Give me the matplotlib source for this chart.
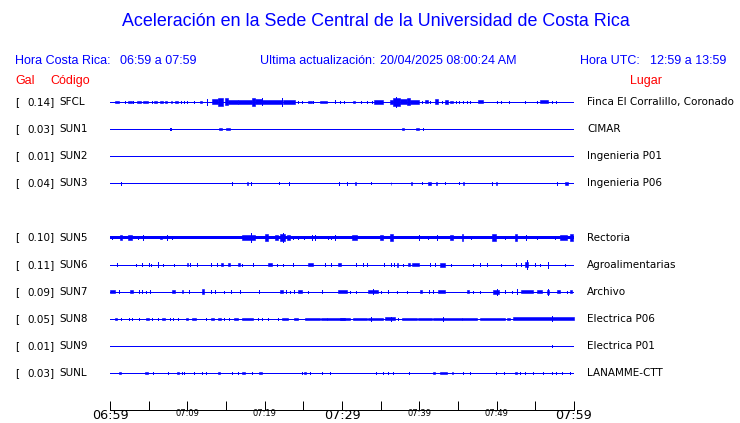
import matplotlib
matplotlib.use("Agg")
import matplotlib.pyplot as plt
import matplotlib.transforms as mtransforms

BLUE = "#0000ff"
RED = "#ff0000"

STATIONS = ["SFCL", "SUN1", "SUN2", "SUN3", "SUN5", "SUN6", "SUN7", "SUN8", "SUN9", "SUNL"]
GAL = ["0.14", "0.03", "0.01", "0.04", "0.10", "0.11", "0.09", "0.05", "0.01", "0.03"]
PLACES = ["Finca El Corralillo, Coronado", "CIMAR", "Ingenieria P01", "Ingenieria P06",
          "Rectoria", "Agroalimentarias", "Archivo", "Electrica P06", "Electrica P01",
          "LANAMME-CTT"]
ROWS = [0, 1, 2, 3, 5, 6, 7, 8, 9, 10]
BASE_AMP = [0, 0, 0, 0, 1.5, 0, 0, 0, 0, 0]

# events per station: (start minute, end minute, half amplitude in px); start == end -> spike
SFCL_EV = [(0.6, 1.2, 1), (2.0, 2.0, 1), (2.3, 2.9, 1), (3.0, 3.0, 1), (3.5, 4.0, 1.3),
           (4.3, 4.9, 1.3), (5.4, 5.4, 1), (5.7, 6.1, 1.3), (6.5, 6.9, 1), (7.1, 7.4, 1),
           (7.9, 8.0, 1), (8.4, 8.8, 1.3), (9.2, 9.2, 1), (9.6, 9.6, 1), (10.0, 10.0, 1.3),
           (10.9, 10.9, 1), (11.7, 11.9, 1), (12.5, 12.5, 3), (13.2, 14.0, 2.5), (14.0, 14.6, 4),
           (14.9, 15.3, 3.5), (15.3, 16.6, 2), (16.6, 18.4, 2.3), (18.4, 18.8, 4),
           (18.8, 19.7, 2.5), (19.6, 19.6, 3.5), (19.7, 22.2, 2), (22.2, 22.2, 4),
           (22.4, 23.9, 2), (24.3, 24.3, 1.3), (24.8, 24.8, 1), (25.6, 26.1, 1.3), (26.3, 26.3, 1),
           (27.2, 28.0, 1.3), (29.1, 29.1, 1.5), (29.7, 29.7, 1), (30.2, 30.2, 1),
           (31.4, 31.7, 1.3), (32.5, 32.5, 1.3), (33.2, 33.2, 1), (33.9, 33.9, 1),
           (34.2, 35.3, 1.8), (36.2, 36.6, 2), (36.6, 37.5, 4), (37.0, 37.0, 5.3),
           (37.5, 38.4, 2.5), (38.4, 38.8, 3.5), (38.8, 40.0, 2), (40.3, 40.3, 1),
           (40.7, 41.1, 1.5), (41.4, 41.4, 1), (42.0, 42.4, 2.5), (42.9, 42.9, 1),
           (43.3, 43.7, 2), (44.0, 44.4, 1.3), (44.8, 44.8, 1), (45.1, 45.1, 1), (45.6, 45.6, 1),
           (46.1, 46.1, 1), (46.6, 46.6, 1), (47.6, 48.2, 1.5), (50.0, 50.0, 1), (50.6, 50.6, 1),
           (51.6, 51.6, 1), (53.7, 53.7, 1), (55.2, 55.2, 1), (55.6, 56.6, 1.5), (57.1, 57.1, 1),
           (57.7, 57.7, 1)]
SUN1_EV = [(7.7, 7.7, 1.3), (7.9, 7.9, 1.3), (14.1, 14.5, 1.3), (15.0, 15.5, 1.3),
           (37.8, 38.0, 1.3), (39.6, 40.0, 1.3), (40.5, 40.5, 1.3)]
SUN2_EV = []
SUN3_EV = [(1.4, 1.4, 1.3), (15.8, 15.8, 1.3), (17.7, 17.8, 1.3), (18.2, 18.2, 1.3),
           (21.9, 21.9, 1), (23.1, 23.1, 1.3), (29.6, 29.6, 1.3), (30.6, 30.6, 1.3),
           (31.7, 31.8, 1.3), (33.8, 33.8, 1), (36.3, 36.4, 1.3), (38.9, 39.1, 1.3),
           (40.4, 40.4, 1), (41.1, 41.5, 1.3), (42.2, 42.3, 1.3), (43.3, 43.3, 1),
           (45.1, 45.1, 1), (45.7, 45.8, 1.3), (49.4, 49.4, 1.3), (49.9, 50.0, 1.3),
           (57.8, 57.8, 1.3), (58.8, 59.2, 1.3)]
SUN5_EV = [(0.3, 0.3, 2), (1.3, 1.6, 2.5), (2.3, 2.8, 2.5), (3.6, 3.6, 2), (4.3, 4.3, 2.5),
           (6.5, 6.7, 2), (7.4, 7.4, 2.5), (8.0, 8.0, 2), (17.1, 18.8, 3), (18.2, 18.2, 5),
           (20.0, 20.4, 3.5), (21.3, 21.7, 2.5), (22.0, 22.6, 4), (22.4, 22.4, 5),
           (22.9, 23.3, 3), (23.7, 23.7, 2), (24.3, 24.3, 2), (25.1, 25.1, 2), (26.1, 26.1, 3),
           (26.5, 26.5, 2.5), (28.2, 28.2, 2), (28.6, 28.6, 2), (29.1, 29.1, 2.5),
           (31.3, 31.9, 2.5), (34.9, 35.3, 2.5), (36.2, 36.6, 3.5), (40.0, 40.0, 2.5),
           (41.1, 41.1, 2), (42.3, 42.3, 3), (44.0, 44.4, 2.5), (45.5, 45.7, 3.5),
           (46.7, 46.7, 2), (49.4, 49.9, 3.5), (51.1, 51.1, 2), (52.4, 52.6, 3.5),
           (53.8, 53.8, 2.5), (55.2, 55.2, 1.7), (57.5, 57.5, 2), (58.2, 59.1, 2.5),
           (59.5, 59.9, 3.5)]
SUN6_EV = [(0.9, 0.9, 1.3), (3.4, 3.4, 1), (4.2, 4.2, 1.3), (5.0, 5.0, 1.3), (5.3, 5.3, 1),
           (6.2, 6.2, 2.7), (6.9, 6.9, 1), (8.3, 8.3, 1), (10.0, 10.1, 1.3), (10.4, 10.4, 1.3),
           (11.3, 11.3, 1.3), (13.1, 13.1, 1.3), (13.8, 13.8, 1.3), (14.4, 14.6, 1.3),
           (15.3, 15.5, 1.3), (16.6, 16.8, 1.3), (17.1, 17.1, 1), (18.5, 18.5, 1.3),
           (20.4, 20.9, 1.3), (21.6, 21.6, 1), (22.4, 22.4, 1), (23.7, 23.7, 1.3),
           (25.6, 26.2, 1.3), (27.8, 27.8, 1.3), (28.6, 28.6, 1.3), (29.5, 29.9, 1.3),
           (31.8, 31.8, 1.3), (32.7, 32.7, 1.3), (33.2, 33.2, 1.3), (35.4, 35.4, 1.3),
           (36.4, 36.4, 1.3), (36.7, 36.7, 1.3), (37.1, 37.3, 2), (37.9, 37.9, 1),
           (38.5, 38.8, 1.3), (39.1, 39.9, 1.3), (41.4, 41.4, 1.3), (42.0, 42.0, 1.3),
           (42.7, 43.3, 2), (44.1, 44.1, 1), (46.9, 46.9, 1), (47.8, 47.8, 1.3),
           (48.7, 48.7, 1.3), (50.6, 50.6, 1), (52.5, 52.5, 1.3), (53.2, 53.2, 1.3),
           (53.7, 54.1, 2.5), (53.9, 53.9, 4.5), (55.0, 55.0, 1.3), (55.6, 55.6, 1),
           (56.7, 56.7, 3), (58.9, 58.9, 1)]
SUN7_EV = [(0.0, 0.6, 1.3), (1.1, 1.1, 1.3), (2.6, 3.0, 1.3), (3.8, 3.8, 1.3), (4.2, 4.2, 1.3),
           (4.6, 4.6, 1), (5.2, 5.2, 1.3), (8.0, 8.4, 1.3), (9.3, 9.4, 1.3), (10.2, 10.2, 1.3),
           (11.9, 12.2, 2.5), (13.1, 13.1, 1.3), (13.6, 13.6, 1.3), (14.7, 14.7, 1),
           (15.6, 15.6, 1.3), (16.8, 16.8, 1.3), (19.3, 19.3, 1.3), (22.0, 22.4, 1.3),
           (22.8, 22.8, 1.3), (23.3, 23.3, 1), (23.8, 23.8, 1.3), (24.3, 24.8, 1.3),
           (25.6, 25.6, 1), (27.4, 27.4, 1.3), (29.5, 30.6, 1.3), (31.0, 31.0, 1),
           (31.8, 31.8, 1), (33.4, 34.7, 1.7), (34.0, 34.0, 2.3), (35.1, 35.1, 1),
           (35.9, 35.9, 1.3), (37.1, 37.1, 1), (38.4, 38.4, 1), (40.1, 40.3, 1.3),
           (41.2, 41.2, 1.3), (41.8, 41.8, 1.3), (42.4, 43.3, 1.7), (46.1, 46.4, 1.3),
           (47.0, 47.0, 1), (47.8, 47.8, 1), (49.5, 50.3, 2), (50.0, 50.0, 3), (51.1, 51.1, 1.3),
           (52.0, 52.0, 1), (52.6, 52.6, 2.5), (53.2, 54.7, 1.5), (55.2, 55.8, 1.5),
           (56.5, 56.8, 2), (56.6, 56.6, 3), (57.8, 58.2, 1.3), (59.1, 59.1, 1),
           (59.5, 59.8, 1.3)]
SUN8_EV = [(0.6, 0.9, 1), (1.4, 1.4, 1), (2.4, 2.4, 1), (2.8, 2.8, 1), (3.8, 3.8, 1),
           (4.6, 5.0, 1.3), (5.4, 5.4, 1.3), (6.2, 6.2, 1), (6.7, 7.1, 1.3), (7.8, 7.8, 1),
           (8.2, 8.2, 1), (8.8, 8.8, 1), (9.8, 10.1, 1.3), (10.6, 11.1, 1.3), (12.4, 12.4, 1),
           (13.1, 13.4, 1.3), (14.0, 14.4, 1.3), (14.8, 14.8, 1), (15.4, 15.4, 1.3),
           (16.0, 16.6, 1.3), (17.1, 18.5, 1.3), (19.1, 19.1, 1), (19.6, 19.6, 1.3),
           (20.4, 20.4, 1.3), (21.7, 21.7, 1), (22.3, 23.0, 1.3), (23.8, 24.3, 1.3),
           (25.2, 27.2, 1.3), (27.3, 28.0, 1.3), (28.1, 30.4, 1.3), (29.7, 31.0, 1.3),
           (31.4, 33.2, 1.3), (33.4, 35.3, 1.3), (33.8, 33.8, 2), (35.6, 36.9, 1.5),
           (36.3, 36.3, 2), (37.2, 37.2, 1), (37.8, 39.7, 1.3), (39.8, 41.6, 1.3),
           (41.8, 45.5, 1.3), (43.0, 43.0, 2), (45.5, 47.5, 1.3), (47.8, 51.1, 1.3),
           (51.3, 51.7, 1.3), (52.1, 60.0, 1.5), (57.1, 57.1, 2.5)]
SUN9_EV = [(57.1, 57.1, 1.3)]
SUNL_EV = [(1.1, 1.4, 1.3), (4.5, 4.9, 1.3), (5.5, 5.5, 1), (7.5, 7.5, 1.3), (8.7, 8.9, 1.3),
           (9.3, 9.3, 1.3), (9.6, 9.6, 1), (10.8, 10.8, 1), (11.9, 11.9, 1.3), (12.4, 12.4, 1.3),
           (14.0, 14.2, 1.3), (15.8, 15.8, 1), (16.5, 16.5, 1.3), (17.1, 17.5, 1),
           (18.3, 18.3, 1), (19.3, 19.6, 1.3), (24.8, 24.8, 1.3), (25.1, 25.4, 1.3),
           (25.9, 25.9, 1.3), (27.4, 27.4, 1.3), (28.5, 28.5, 1.3), (34.4, 34.4, 1.3),
           (35.3, 35.3, 1), (36.0, 36.0, 1), (36.6, 36.6, 1.3), (38.6, 38.6, 1.3),
           (41.8, 42.0, 1.3), (42.7, 43.6, 1.3), (44.2, 44.4, 1.3), (45.7, 45.7, 1),
           (46.6, 46.6, 1.3), (49.9, 49.9, 1.3), (51.0, 51.0, 1), (52.4, 52.6, 1.3),
           (53.0, 53.0, 1.3), (53.7, 53.7, 1), (54.7, 54.7, 1.3), (56.0, 56.0, 1.3),
           (57.1, 57.1, 1), (57.7, 57.7, 1), (58.5, 58.5, 1.3), (59.5, 59.5, 1.3)]
EVENTS = [SFCL_EV, SUN1_EV, SUN2_EV, SUN3_EV, SUN5_EV, SUN6_EV, SUN7_EV, SUN8_EV, SUN9_EV, SUNL_EV]

TICK_MIN = list(range(0, 61, 5))
TICK_LBL = ["06:59", "", "07:09", "", "07:19", "", "07:29", "", "07:39", "", "07:49", "", "07:59"]
BIG_TICKS = ["06:59", "07:29", "07:59"]

W, H = 740, 423
PX_PER_ROW = 27.1


def fx(px):
    return px / W


def fy(py):
    return 1 - py / H


fig = plt.figure(figsize=(7.4, 4.23), dpi=100, facecolor="white")
ax = fig.add_axes([fx(110), fy(410), fx(574) - fx(110), fy(90) - fy(410)])
ax.set_xlim(0, 60)
ax.set_ylim((410 - 102) / PX_PER_ROW, (90 - 102) / PX_PER_ROW)
for s in ["top", "left", "right"]:
    ax.spines[s].set_visible(False)
ax.spines["bottom"].set_linewidth(0.72)
ax.set_yticks([])
ax.set_xticks(TICK_MIN)
ax.set_xticklabels(TICK_LBL)
ax.tick_params(axis="x", direction="in", length=6.5, width=0.72, pad=-0.5)
for lab in ax.get_xticklabels():
    lab.set_fontsize(9.2 if lab.get_text() in BIG_TICKS else 6)
    lab.set_family("DejaVu Sans")

for row, base, events in zip(ROWS, BASE_AMP, EVENTS):
    ax.plot([0, 60], [row, row], color=BLUE, lw=0.72, antialiased=False,
            solid_capstyle="butt")
    if base:
        b = base / PX_PER_ROW
        ax.fill_between([0, 60], row - b, row + b, color=BLUE, lw=0, antialiased=False)
    for t0, t1, a in events:
        a = a / PX_PER_ROW
        if t1 > t0:
            ax.fill_between([t0, t1], row - a, row + a, facecolor=BLUE, lw=0.4,
                            edgecolor=BLUE, antialiased=False)
        else:
            ax.vlines(t0, row - a, row + a, color=BLUE, lw=0.72, antialiased=False)

# title and header
fig.text(fx(376), fy(22), "Aceleración en la Sede Central de la Universidad de Costa Rica",
         ha="center", va="center", color=BLUE, fontsize=12.9, family="Liberation Sans")
hdr = dict(va="center", color=BLUE, fontsize=9, family="Liberation Sans")
fig.text(fx(15), fy(61), "Hora Costa Rica:", **hdr)
fig.text(fx(120), fy(61), "06:59 a 07:59", **hdr)
fig.text(fx(260), fy(61), "Ultima actualización:", **hdr)
fig.text(fx(380), fy(61), "20/04/2025 08:00:24 AM", **hdr)
fig.text(fx(580), fy(61), "Hora UTC:", **hdr)
fig.text(fx(650), fy(61), "12:59 a 13:59", **hdr)
red = dict(va="center", color=RED, fontsize=9, family="Liberation Sans")
fig.text(fx(15), fy(81), "Gal", **red)
fig.text(fx(50), fy(81), "Código", **red)
fig.text(fx(630), fy(81), "Lugar", **red)

# row labels
trans = mtransforms.blended_transform_factory(fig.transFigure, ax.transData)
lbl = dict(va="center", color="black", fontsize=7.5, family="DejaVu Sans", transform=trans)
for row, st, g, place in zip(ROWS, STATIONS, GAL, PLACES):
    fig.text(fx(15), row, "[", **lbl)
    fig.text(fx(55), row, g + "]", ha="right", **lbl)
    fig.text(fx(59), row, st, **lbl)
    fig.text(fx(587), row, place, **lbl)

fig.savefig("out.png", dpi=100, facecolor="white")
